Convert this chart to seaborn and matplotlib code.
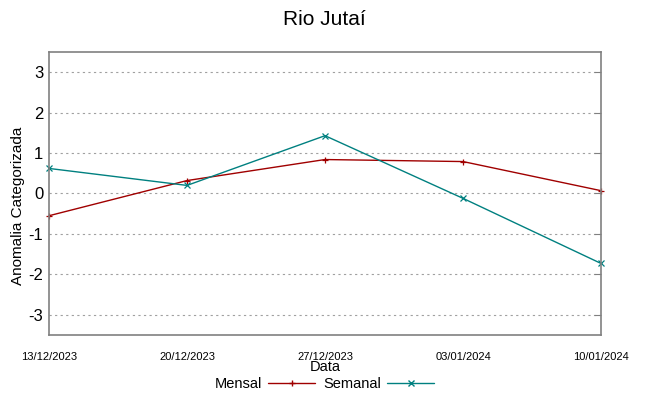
import pandas as pd
import seaborn as sns
import matplotlib.pyplot as plt
from matplotlib.lines import Line2D

# Dados
datas = ["2023-12-13", "2023-12-20", "2023-12-27", "2024-01-03", "2024-01-10"]
mensal = [-0.55, 0.32, 0.84, 0.79, 0.07]
semanal = [0.62, 0.20, 1.43, -0.12, -1.73]
rotulos_x = ["13/12/2023", "20/12/2023", "27/12/2023", "03/01/2024", "10/01/2024"]
ticks_y = [-3, -2, -1, 0, 1, 2, 3]

df = pd.DataFrame({"data": pd.to_datetime(datas), "Mensal": mensal, "Semanal": semanal})

sns.set_style("white")
plt.rcParams['font.family'] = ['Liberation Sans', 'DejaVu Sans']
plt.rcParams['text.color'] = 'black'
plt.rcParams['axes.labelcolor'] = 'black'

cores = {"Mensal": "#a00000", "Semanal": "#008080"}
marcas = {"Mensal": "+", "Semanal": "x"}

fig = plt.figure(figsize=(6.49, 3.96), dpi=100)
ax = fig.add_axes([49/649, 1 - 335/396, 552/649, 283/396])

# uma linha por serie
for serie in ["Mensal", "Semanal"]:
    sns.lineplot(data=df, x="data", y=serie, color=cores[serie], marker=marcas[serie],
                 markeredgecolor=cores[serie], linewidth=1, markersize=5,
                 markeredgewidth=0.9, ax=ax, clip_on=False)

ax.set_xlim(df["data"].iloc[0], df["data"].iloc[-1])
ax.set_ylim(-3.5, 3.5)
ax.set_yticks(ticks_y)
ax.set_yticklabels([str(t) for t in ticks_y], fontsize=12)
ax.set_xticks(df["data"])
ax.set_xticklabels(rotulos_x, fontsize=8)
ax.tick_params(axis='x', direction='in', length=5, pad=12, colors='#808080', labelcolor='black')
ax.tick_params(axis='y', direction='in', length=5, pad=4, colors='#808080', labelcolor='black',
               right=True)
ax.yaxis.grid(True, linestyle=(0, (2, 3)), color='#a0a0a0', linewidth=0.8)
for s in ax.spines.values():
    s.set_color('#808080')
    s.set_linewidth(1.2)

ax.set_xlabel("Data", fontsize=10.5, labelpad=-1)
ax.set_ylabel("Anomalia Categorizada", fontsize=11)
ax.yaxis.set_label_coords(-0.044, 0.455)
fig.suptitle("Rio Jutaí", fontsize=15, y=0.975)

handles = [Line2D([], [], color=cores[k], marker=marcas[k], linewidth=1, markersize=5)
           for k in ["Mensal", "Semanal"]]
fig.legend(handles, ["Mensal", "Semanal"], loc='center', bbox_to_anchor=(0.5, 1 - 384/396),
           ncol=2, frameon=False, markerfirst=False, fontsize=10.5, handlelength=3.2,
           columnspacing=0.6, handletextpad=0.4, borderpad=0)

fig.savefig("out.png", dpi=100)
